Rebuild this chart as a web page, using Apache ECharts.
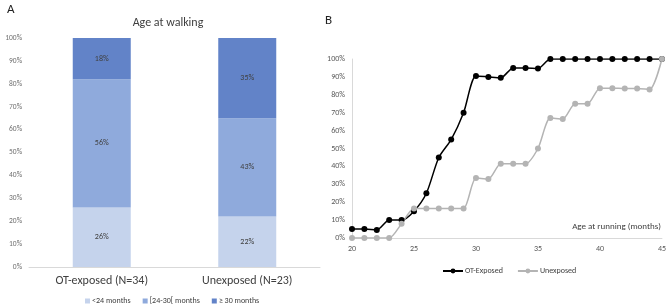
<!DOCTYPE html>
<html>
<head>
<meta charset="utf-8">
<script src="https://cdn.jsdelivr.net/npm/echarts@6/dist/echarts.min.js"></script>
<style>
  html, body { margin: 0; padding: 0; background: #fff; }
  #chart { width: 669px; height: 304px; }
</style>
</head>
<body>
<div id="chart"></div>
<script>
// Panel A data
var groups = ['OT-exposed (N=34)', 'Unexposed (N=23)'];
var under24 = [26, 22];
var from24to30 = [56, 43];
var over30 = [18, 35];

// Panel B data
var months = [20, 21, 22, 23, 24, 25, 26, 27, 28, 29, 30, 31, 32, 33, 34, 35, 36, 37, 38, 39, 40, 41, 42, 43, 44, 45];
var otExposed = [5, 5, 4.5, 10, 10, 15, 25, 45, 55, 70, 90.5, 90, 89.5, 95, 95, 94.7, 100, 100, 100, 100, 100, 100, 100, 100, 100, 100];
var unexposed = [0, 0, 0, 0, 8, 16.5, 16.5, 16.5, 16.5, 16.5, 33.5, 33, 41.5, 41.5, 41.5, 50, 67, 66.5, 75, 75, 83.7, 83.7, 83.5, 83.5, 83, 100];

var font = 'Calibri, Carlito, "Open Sans", sans-serif';

function pairs(xs, ys) {
    return xs.map(function (x, i) { return [x, ys[i]]; });
}

var chart = echarts.init(document.getElementById('chart'));

var barLabel = {
    show: true,
    position: 'inside',
    formatter: '{c}%',
    fontSize: 8,
    color: '#404040',
    fontFamily: font
};

chart.setOption({
    animation: false,
    textStyle: { fontFamily: font },
    title: [
        { text: 'A', left: 2, top: -2, textStyle: { fontSize: 13, fontWeight: 'normal', color: '#222' } },
        { text: 'Age at walking', left: 163, top: 12, textAlign: 'center',
          textStyle: { fontSize: 12, fontWeight: 'normal', color: '#404040' } },
        { text: 'B', left: 320, top: 9, textStyle: { fontSize: 13, fontWeight: 'normal', color: '#222' } },
        { text: 'Age at running (months)', right: 3, top: 217,
          textStyle: { fontSize: 9, fontWeight: 'normal', color: '#404040' } }
    ],
    legend: [
        {
            data: ['<24 months', '[24-30[ months', '≥ 30 months'],
            left: 80, top: 292,
            itemWidth: 5, itemHeight: 5, itemGap: 12,
            icon: 'rect',
            textStyle: { fontSize: 8, color: '#404040', padding: [0, 0, 0, -3] }
        },
        {
            data: ['OT-Exposed', 'Unexposed'],
            left: 437, top: 262,
            itemWidth: 20, itemHeight: 6, itemGap: 14,
            textStyle: { fontSize: 8, color: '#404040', padding: [0, 0, 0, -3] }
        }
    ],
    grid: [
        { left: 29, top: 38, width: 291, height: 229 },
        { left: 352, top: 59, width: 313, height: 179 }
    ],
    xAxis: [
        {
            type: 'category', gridIndex: 0, data: groups,
            axisLine: { lineStyle: { color: '#d9d9d9' } },
            axisTick: { show: false },
            axisLabel: { fontSize: 12, color: '#404040', margin: 8 }
        },
        {
            type: 'value', gridIndex: 1, min: 20, max: 45, interval: 5,
            axisLine: { show: true, lineStyle: { color: '#d9d9d9' } },
            axisTick: { show: false },
            splitLine: { show: false },
            axisLabel: { fontSize: 8, color: '#595959', margin: 7 }
        }
    ],
    yAxis: [
        {
            type: 'value', gridIndex: 0, min: 0, max: 100, interval: 10,
            axisLine: { show: false }, axisTick: { show: false },
            splitLine: { show: false },
            axisLabel: { formatter: '{value}%', fontSize: 7.5, color: '#707070', margin: 7 }
        },
        {
            type: 'value', gridIndex: 1, min: 0, max: 100, interval: 10,
            axisLine: { show: true, lineStyle: { color: '#d9d9d9' } },
            axisTick: { show: false },
            splitLine: { show: false },
            axisLabel: { formatter: '{value}%', fontSize: 8, color: '#595959', margin: 7 }
        }
    ],
    series: [
        { name: '<24 months', type: 'bar', stack: 'a', xAxisIndex: 0, yAxisIndex: 0,
          barWidth: 58, data: under24, itemStyle: { color: '#c5d3ec' }, label: barLabel },
        { name: '[24-30[ months', type: 'bar', stack: 'a', xAxisIndex: 0, yAxisIndex: 0,
          barWidth: 58, data: from24to30, itemStyle: { color: '#8faadc' }, label: barLabel },
        { name: '≥ 30 months', type: 'bar', stack: 'a', xAxisIndex: 0, yAxisIndex: 0,
          barWidth: 58, data: over30, itemStyle: { color: '#6283c8' }, label: barLabel },
        { name: 'OT-Exposed', type: 'line', xAxisIndex: 1, yAxisIndex: 1,
          data: pairs(months, otExposed), smooth: 0.25,
          symbol: 'circle', symbolSize: 6,
          lineStyle: { color: '#000', width: 1.5 },
          itemStyle: { color: '#000' } },
        { name: 'Unexposed', type: 'line', xAxisIndex: 1, yAxisIndex: 1,
          data: pairs(months, unexposed), smooth: 0.25,
          symbol: 'circle', symbolSize: 6,
          lineStyle: { color: '#b4b4b4', width: 1.5 },
          itemStyle: { color: '#b4b4b4' } }
    ]
});
</script>
</body>
</html>
